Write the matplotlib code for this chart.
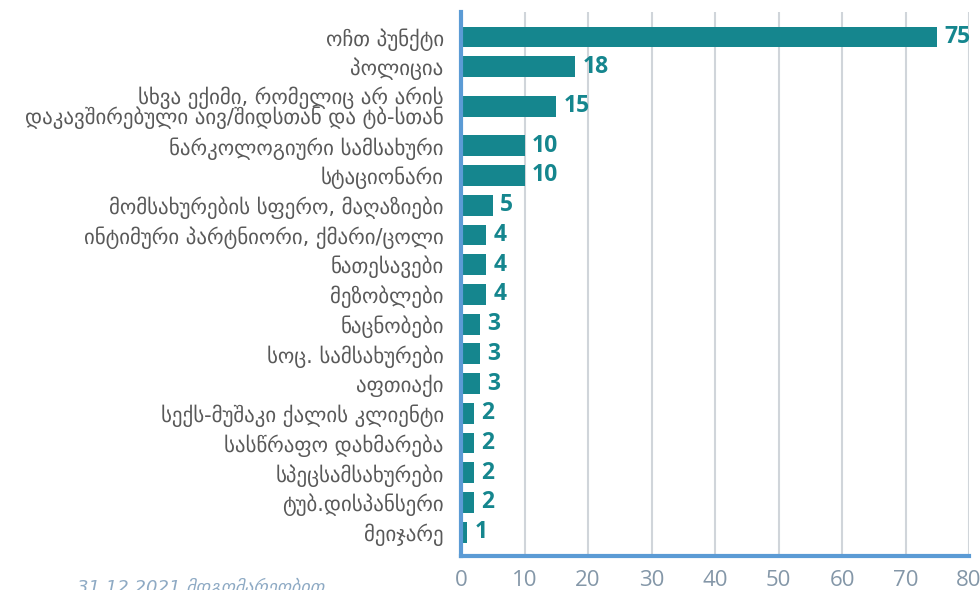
import numpy as np
import matplotlib
matplotlib.use("Agg")
import matplotlib.pyplot as plt

# categories, top to bottom
categories = [
    "ოჩთ პუნქტი",
    "პოლიცია",
    "სხვა ექიმი, რომელიც არ არის\nდაკავშირებული აივ/შიდსთან და ტბ-სთან",
    "ნარკოლოგიური სამსახური",
    "სტაციონარი",
    "მომსახურების სფერო, მაღაზიები",
    "ინტიმური პარტნიორი, ქმარი/ცოლი",
    "ნათესავები",
    "მეზობლები",
    "ნაცნობები",
    "სოც. სამსახურები",
    "აფთიაქი",
    "სექს-მუშაკი ქალის კლიენტი",
    "სასწრაფო დახმარება",
    "სპეცსამსახურები",
    "ტუბ.დისპანსერი",
    "მეიჯარე",
]
values = [75, 18, 15, 10, 10, 5, 4, 4, 4, 3, 3, 3, 2, 2, 2, 2, 1]
xticks = [0, 10, 20, 30, 40, 50, 60, 70, 80]
footnote = "31.12.2021 მდგომარეობით"

bar_color = "#15868e"
axis_color = "#5b9bd5"
grid_color = "#d0d5da"
tick_color = "#8497a8"
label_color = "#595959"

# extra room around the two-line label
lines = [c.count("\n") + 1 for c in categories]
pos = [0.0]
for i in range(1, len(categories)):
    pos.append(pos[-1] + 1 + 0.33 * (lines[i - 1] - 1) + 0.33 * (lines[i] - 1))
pos = np.array(pos)

fig = plt.figure(figsize=(9.8, 5.9), dpi=100)
ax = fig.add_axes([461 / 980, 1 - 556 / 590, (969 - 461) / 980, (556 - 12) / 590])

ax.barh(pos, values, height=0.7, color=bar_color, zorder=3)
for p, v in zip(pos, values):
    ax.text(v + 1.2, p, str(v), va="center", ha="left", color=bar_color,
            fontsize=16.5, fontweight="bold", family="Open Sans", zorder=4)

ax.set_xlim(0, 80)
ax.set_ylim(pos[-1] + 0.8, -0.84)
ax.set_xticks(xticks)
ax.set_xticklabels([str(t) for t in xticks], fontsize=16, color=tick_color,
                   family="Open Sans")
ax.set_yticks(pos)
ax.set_yticklabels(categories, fontsize=15, color=label_color,
                   family="DejaVu Sans", linespacing=0.9)
ax.tick_params(axis="x", length=0, pad=10)
ax.tick_params(axis="y", length=0, pad=12.5)

ax.grid(axis="x", color=grid_color, linewidth=1.5, zorder=0)
for s in ["top", "right"]:
    ax.spines[s].set_visible(False)
for s in ["left", "bottom"]:
    ax.spines[s].set_color(axis_color)
    ax.spines[s].set_linewidth(3)
    ax.spines[s].set_zorder(5)

fig.text(77 / 980, -3 / 590, footnote, fontsize=13, style="italic",
         color="#8eaac4", family="DejaVu Sans", va="baseline", ha="left")

fig.savefig("out.png", dpi=100)
